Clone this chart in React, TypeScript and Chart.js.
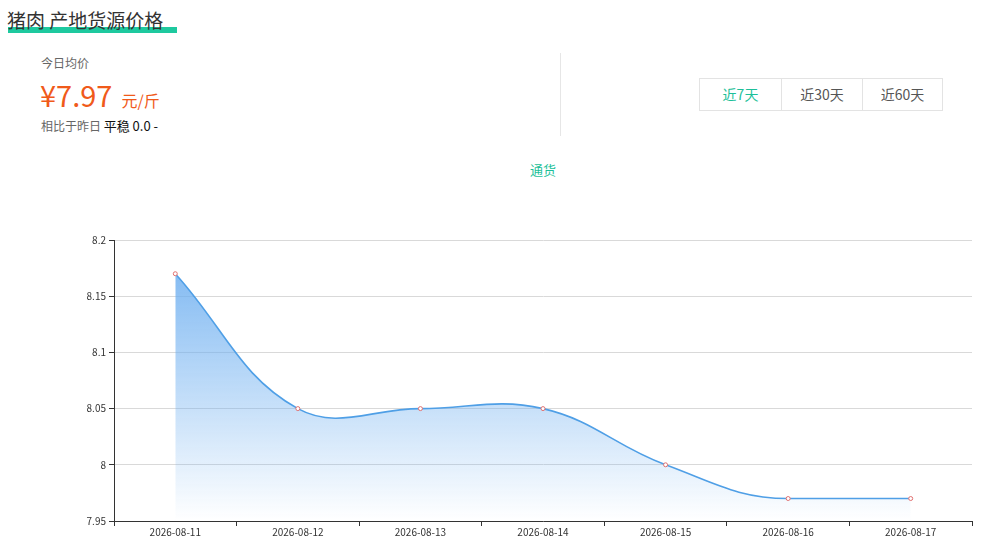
import React, { useEffect, useRef } from "react";
import { Chart, registerables } from "chart.js";

Chart.register(...registerables);

const categories = ["2026-08-11", "2026-08-12", "2026-08-13", "2026-08-14", "2026-08-15", "2026-08-16", "2026-08-17"];
const prices = [8.17, 8.05, 8.05, 8.05, 8.0, 7.97, 7.97];
const yMin = 7.95;
const yMax = 8.2;
const yStep = 0.05;
const seriesName = "通货";
const rangeButtons = ["近7天", "近30天", "近60天"];

const FONT = '"Noto Sans CJK SC", "Noto Sans", sans-serif';
const GREEN = "#1dbf99";
const ORANGE = "#f05a1a";

// flattens control points at a point that starts a flat final run (as the original smoothing does)
const flatTailPlugin = {
  id: "flatTail",
  afterDatasetsUpdate(chart: any) {
    const meta = chart.getDatasetMeta(0);
    if (meta.dataset && meta.dataset.updateControlPoints) {
      meta.dataset.updateControlPoints(chart.chartArea, meta.indexAxis);
    }
    const pts = meta.data;
    const vals = chart.data.datasets[0].data as number[];
    const n = pts.length;
    if (n >= 3 && vals[n - 2] === vals[n - 1]) {
      const p = pts[n - 2];
      p.cp1y = p.y;
      p.cp2y = p.y;
      const last = pts[n - 1];
      last.cp1y = last.y;
    }
  },
};

export default function App() {
  const canvasRef = useRef<HTMLCanvasElement | null>(null);

  useEffect(() => {
    document.body.style.margin = "0";
    const canvas = canvasRef.current;
    if (!canvas) return;
    const chart = new Chart(canvas, {
      type: "line",
      plugins: [flatTailPlugin],
      data: {
        labels: categories,
        datasets: [
          {
            label: seriesName,
            data: prices,
            borderColor: "#4f9fe6",
            borderWidth: 1.6,
            tension: 0.4,
            fill: "start",
            backgroundColor: (ctx: any) => {
              const area = ctx.chart.chartArea;
              if (!area) return "rgba(100,170,240,0.5)";
              const g = ctx.chart.ctx.createLinearGradient(0, area.top + 30, 0, area.bottom);
              g.addColorStop(0, "rgba(110,175,240,0.85)");
              g.addColorStop(1, "rgba(110,175,240,0.0)");
              return g;
            },
            pointRadius: 2,
            pointBorderWidth: 1,
            pointBorderColor: "#e07070",
            pointBackgroundColor: "#ffffff",
            pointHoverRadius: 2,
          },
        ],
      },
      options: {
        responsive: false,
        animation: false,
        layout: { padding: { left: 0, right: 22, top: 40, bottom: 0 } },
        plugins: {
          legend: { display: false },
          tooltip: { enabled: false },
        },
        scales: {
          x: {
            type: "category",
            offset: true,
            grid: {
              drawOnChartArea: false,
              offset: true,
              tickLength: 5,
              tickColor: "#333",
            },
            border: { color: "#333", width: 1 },
            ticks: {
              color: "#333",
              font: { family: FONT, size: 10 },
              padding: 0,
              maxRotation: 0,
              autoSkip: false,
            },
            afterFit: (scale: any) => {
              scale.height = 23;
            },
          },
          y: {
            min: yMin,
            max: yMax,
            grid: {
              color: "#d9d9d9",
              tickLength: 5,
              tickColor: "#333",
            },
            border: { color: "#333", width: 1 },
            ticks: {
              stepSize: yStep,
              color: "#333",
              font: { family: FONT, size: 10 },
              padding: 3,
              callback: (v: any) => String(Number(Number(v).toFixed(2))),
            },
            afterFit: (scale: any) => {
              scale.width = 114;
            },
          },
        },
      },
    });
    return () => chart.destroy();
  }, []);

  return (
    <div style={{ position: "absolute", left: 0, top: 0, width: 994, height: 544, background: "#fff", fontFamily: FONT, overflow: "hidden" }}>
      {/* title */}
      <div style={{ position: "absolute", left: 8, top: 27, width: 169, height: 6, background: "#1ec99f" }} />
      <div style={{ position: "absolute", left: 7, top: 7, fontSize: 19, lineHeight: "26px", color: "#333", whiteSpace: "nowrap" }}>
        猪肉 产地货源价格
      </div>

      {/* today's price */}
      <div style={{ position: "absolute", left: 41, top: 54, fontSize: 12, lineHeight: "18px", color: "#666" }}>今日均价</div>
      <div style={{ position: "absolute", left: 40, top: 74, whiteSpace: "nowrap", color: ORANGE, lineHeight: "40px" }}>
        <span style={{ fontSize: 29 }}>¥7.97</span>
        <span style={{ fontSize: 16, marginLeft: 9 }}>元/斤</span>
      </div>
      <div style={{ position: "absolute", left: 41, top: 116, fontSize: 12, lineHeight: "20px", color: "#666", whiteSpace: "nowrap" }}>
        相比于昨日 <span style={{ color: "#111", fontSize: 13 }}>平稳 0.0 -</span>
      </div>

      {/* divider */}
      <div style={{ position: "absolute", left: 560, top: 53, width: 1, height: 83, background: "#e6e6e6" }} />

      {/* range buttons */}
      <div style={{ position: "absolute", left: 699, top: 78, display: "flex", height: 33, border: "1px solid #e3e3e3", boxSizing: "border-box" }}>
        {rangeButtons.map((b, i) => (
          <div
            key={b}
            style={{
              width: i === 2 ? 80 : 81,
              height: 31,
              lineHeight: "31px",
              textAlign: "center",
              fontSize: 14,
              color: i === 0 ? GREEN : "#555",
              borderLeft: i === 0 ? "none" : "1px solid #e3e3e3",
              boxSizing: "border-box",
            }}
          >
            {b}
          </div>
        ))}
      </div>

      {/* legend */}
      <div style={{ position: "absolute", left: 530, top: 160, fontSize: 13, lineHeight: "20px", color: GREEN }}>{seriesName}</div>

      {/* chart */}
      <canvas ref={canvasRef} width={994} height={344} style={{ position: "absolute", left: 0, top: 200, width: 994, height: 344 }} />
    </div>
  );
}
